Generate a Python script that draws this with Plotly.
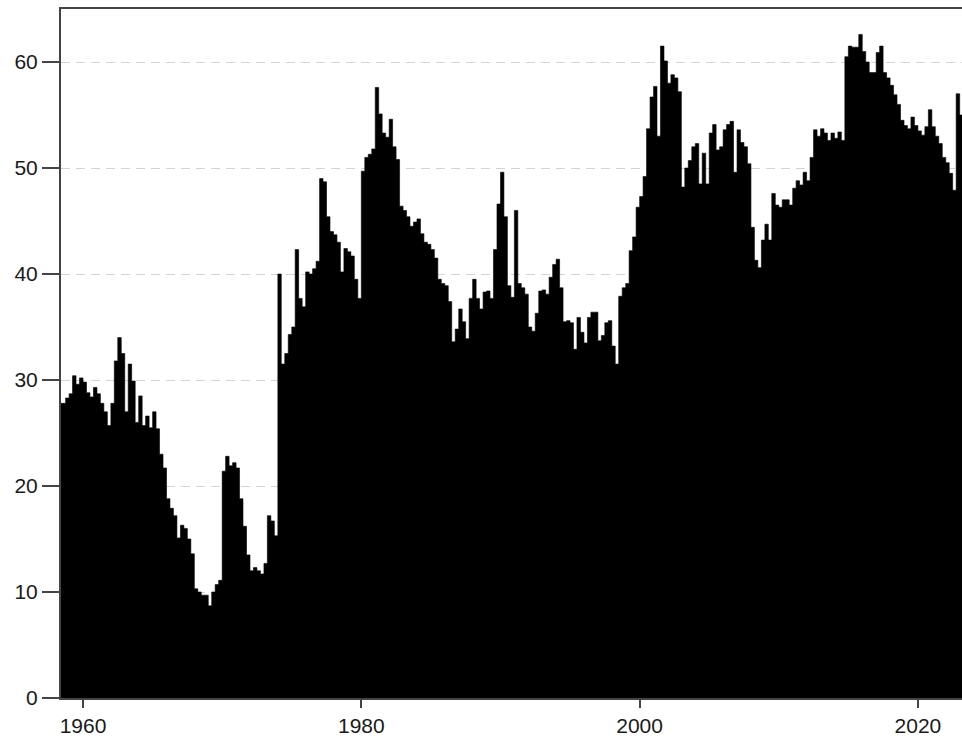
import pandas as pd
import plotly.graph_objects as go

# Quarterly readings, one list per decade (first quarter of each list starts the decade,
# except the 1950s list which begins in 1958 Q1).
values_1950s = [27.8, 27.8, 27.8, 28.3,
                28.7, 30.4, 29.6, 30.2]
values_1960s = [29.8, 28.8, 28.4, 29.3,
                28.7, 27.8, 27.0, 25.7,
                27.8, 31.8, 34.0, 32.5,
                27.0, 31.5, 29.9, 26.0,
                28.5, 25.7, 26.6, 25.5,
                27.0, 25.4, 23.0, 21.7,
                18.8, 17.9, 17.2, 15.1,
                16.3, 16.0, 15.0, 13.6,
                10.3, 10.0, 9.7, 9.7,
                8.7, 10.0, 10.7, 11.1]
values_1970s = [21.4, 22.8, 21.9, 22.2,
                21.7, 18.8, 16.2, 13.5,
                12.0, 12.3, 12.0, 11.7,
                12.7, 17.2, 16.7, 15.3,
                40.0, 31.5, 32.5, 34.3,
                35.0, 42.3, 37.7, 36.9,
                40.2, 40.0, 40.5, 41.2,
                49.0, 48.7, 45.4, 44.0,
                43.7, 43.0, 40.2, 42.4,
                42.1, 41.7, 39.5, 37.7]
values_1980s = [49.7, 51.0, 51.3, 51.8,
                57.6, 55.1, 53.3, 52.9,
                54.6, 52.0, 50.8, 46.4,
                46.0, 45.4, 44.5, 44.9,
                45.2, 43.8, 43.0, 42.8,
                42.3, 41.5, 39.5, 39.1,
                38.9, 37.4, 33.6, 34.8,
                36.7, 35.5, 33.9, 37.7,
                39.5, 37.7, 36.7, 38.3,
                38.4, 37.7, 42.3, 46.6]
values_1990s = [49.6, 45.4, 38.9, 37.8,
                46.0, 39.1, 38.7, 38.1,
                35.0, 34.6, 36.3, 38.4,
                38.5, 38.1, 39.7, 40.9,
                41.4, 38.7, 35.5, 35.6,
                35.4, 32.9, 35.9, 34.5,
                33.5, 35.9, 36.4, 36.4,
                33.7, 34.2, 35.4, 35.6,
                33.2, 31.5, 37.9, 38.7,
                39.1, 42.2, 43.5, 46.3]
values_2000s = [47.3, 49.2, 53.7, 56.7,
                57.7, 53.0, 61.5, 60.1,
                58.0, 58.8, 58.5, 57.2,
                48.2, 50.0, 50.7, 52.0,
                52.3, 48.5, 51.4, 48.5,
                53.3, 54.1, 51.7, 52.0,
                53.6, 54.1, 54.4, 49.6,
                53.6, 52.4, 52.0, 50.4,
                44.4, 41.3, 40.6, 43.2,
                44.7, 43.2, 47.6, 46.5]
values_2010s = [46.3, 47.0, 47.0, 46.5,
                48.1, 48.8, 48.4, 49.6,
                48.8, 51.0, 53.6, 53.0,
                53.7, 53.3, 52.6, 53.3,
                52.8, 53.4, 52.6, 60.5,
                61.5, 61.4, 61.4, 62.6,
                61.0, 60.0, 59.0, 59.0,
                60.9, 61.5, 59.0, 58.5,
                57.8, 56.9, 56.0, 54.5,
                54.0, 53.7, 54.8, 54.0]
values_2020s = [53.5, 53.1, 53.9, 55.5,
                53.9, 53.0, 52.3, 51.0,
                50.5, 49.5, 47.9, 57.0,
                55.0, 52.6]

values = (values_1950s + values_1960s + values_1970s + values_1980s
          + values_1990s + values_2000s + values_2010s + values_2020s)
quarters = pd.date_range("1958-01-01", periods=len(values), freq="QS")

x_ticks = [1960, 1980, 2000, 2020]
y_ticks = [0, 10, 20, 30, 40, 50, 60]

fig = go.Figure()
fig.add_trace(go.Scatter(
    x=quarters, y=values,
    mode="lines", line=dict(shape="hv", color="black", width=0.6),
    fill="tozeroy", fillcolor="black",
    hoverinfo="x+y", showlegend=False,
))

axis_font = dict(family="Liberation Sans, Arial, sans-serif", size=21, color="#1a1a1a")

fig.update_layout(
    width=962, height=742,
    margin=dict(l=61, r=0, t=9, b=44),
    paper_bgcolor="white", plot_bgcolor="white",
    xaxis=dict(
        type="date",
        range=["1958-06-02", "2023-03-03"],
        tickvals=[f"{y}-01-01" for y in x_ticks],
        ticktext=[str(y) for y in x_ticks],
        ticks="outside", ticklen=8, tickwidth=1.5, tickcolor="#444444",
        showgrid=False, zeroline=False,
        showline=True, linecolor="#444444", linewidth=1.5, mirror=True,
        tickfont=axis_font,
    ),
    yaxis=dict(
        range=[0, 65],
        tickvals=y_ticks,
        ticks="outside", ticklen=17, tickwidth=1.5, tickcolor="#444444",
        showgrid=True, gridcolor="#d4d4d4", griddash="9px,6px", gridwidth=1,
        zeroline=False,
        showline=True, linecolor="#444444", linewidth=2,
        tickfont=axis_font,
    ),
)

fig.write_html("out.html")
